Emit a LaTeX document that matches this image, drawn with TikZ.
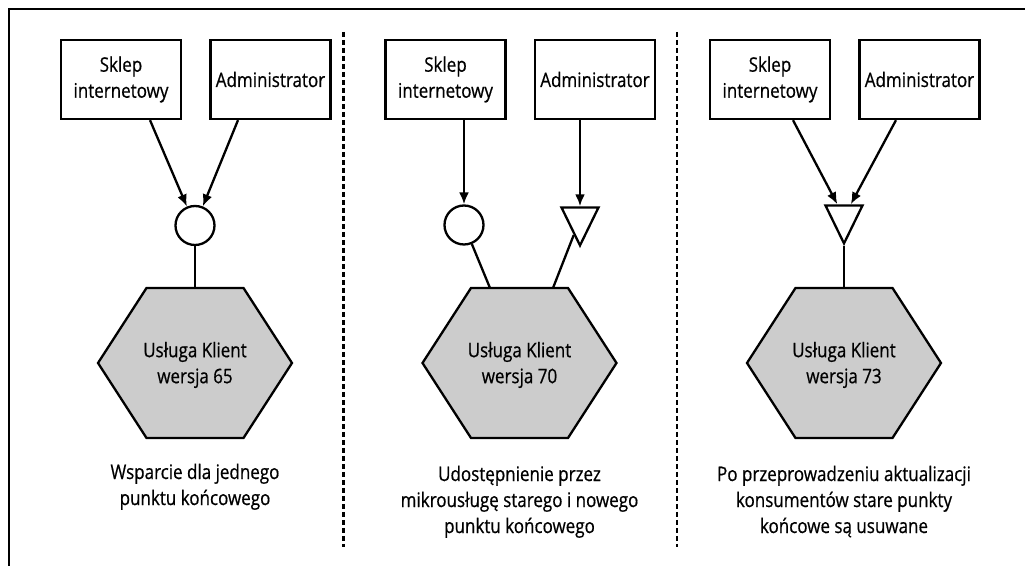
\documentclass[tikz,border=0pt]{standalone}
\usepackage{fontspec}
\setmainfont{Open Sans}[FakeStretch=0.85,FakeBold=0.6]
\usetikzlibrary{positioning,arrows.meta,shapes.geometric,calc}

\begin{document}
\begin{tikzpicture}[x=0.5pt,y=-0.5pt,line width=1.15pt,>={Latex[length=6pt,width=5pt]},
       font=\fontsize{10}{13}\selectfont,node distance=74.75pt,on grid,
       box/.style={draw,minimum width=60pt,minimum height=39.5pt,align=center,inner sep=0pt},
       port/.style={draw,circle,minimum size=19.5pt,inner sep=0pt},
       newport/.style={draw,isosceles triangle,shape border rotate=270,isosceles triangle apex angle=52,
                       minimum height=19pt,inner sep=0pt},
       hexa/.style={draw,fill=gray!40},
       divider/.style={dash pattern=on 2.5pt off 1.5pt},
       caption/.style={align=center,anchor=north}]
       \useasboundingbox (0,0) rectangle (1025,566);
       % frame and dividers
       \draw[line width=1.4pt] (1025,9) -- (9,9) -- (9,566);
       \draw[divider] (343.5,32) -- (343.5,547);
       \draw[divider] (677,32) -- (677,547);

       % one endpoint
       \node[box] (sklep1) at (121,79.5) {Sklep\\internetowy};
       \node[box] (admin1) [right=of sklep1] {Administrator};
       \node[port] (port1) at (195,225.5) {};
       \coordinate (hex1) at (195,363);
       \draw[hexa] ($(hex1)+(-97,0)$) -- ++(48.5,-75) -- ++(97,0) -- ++(48.5,75)
                   -- ++(-48.5,75) -- ++(-97,0) -- cycle;
       \node[align=center] (klient1) at ($(hex1)+(0,2)$) {Usługa Klient\\wersja 65};
       \coordinate (top1) at ($(hex1)+(0,-75)$);
       \draw[->] ($(sklep1.south)+(29,0)$) -- (port1);
       \draw[->] ($(admin1.south)+(-32.5,0)$) -- (port1);
       \draw (port1) -- (top1);
       \node[caption] (opis1) at (195,456) {Wsparcie dla jednego\\punktu końcowego};

       % old and new endpoint
       \node[box] (sklep2) at (445.5,79.5) {Sklep\\internetowy};
       \node[box] (admin2) [right=of sklep2] {Administrator};
       \node[port] (port2) at (464,225) {};
       \node[newport] (tri2) at (580,219) {};
       \coordinate (hex2) at (519.5,363);
       \draw[hexa] ($(hex2)+(-97,0)$) -- ++(48.5,-75) -- ++(97,0) -- ++(48.5,75)
                   -- ++(-48.5,75) -- ++(-97,0) -- cycle;
       \node[align=center] (klient2) at ($(hex2)+(0,2)$) {Usługa Klient\\wersja 70};
       \coordinate (topa2) at ($(hex2)+(-29.5,-75)$);
       \coordinate (topb2) at ($(hex2)+(33.5,-75)$);
       \draw[->] (sklep2.south -| port2) -- (port2);
       \draw[->] (admin2.south -| tri2) -- (tri2);
       \draw (port2) -- (topa2);
       \draw (tri2) -- (topb2);
       \node[caption] (opis2) at (519.5,458) {Udostępnienie przez\\mikrousługę starego i nowego\\punktu końcowego};

       % new endpoint only
       \node[box] (sklep3) at (770,79.5) {Sklep\\internetowy};
       \node[box] (admin3) [right=of sklep3] {Administrator};
       \node[newport] (tri3) at (844,217) {};
       \coordinate (hex3) at (844,363);
       \draw[hexa] ($(hex3)+(-97,0)$) -- ++(48.5,-75) -- ++(97,0) -- ++(48.5,75)
                   -- ++(-48.5,75) -- ++(-97,0) -- cycle;
       \node[align=center] (klient3) at ($(hex3)+(0,2)$) {Usługa Klient\\wersja 73};
       \coordinate (top3) at ($(hex3)+(0,-75)$);
       \draw[->] ($(sklep3.south)+(23,0)$) -- (tri3);
       \draw[->] ($(admin3.south)+(-23.5,0)$) -- (tri3);
       \draw (tri3) -- (top3);
       \node[caption] (opis3) at (844,458) {Po przeprowadzeniu aktualizacji\\konsumentów stare punkty\\końcowe są usuwane};
\end{tikzpicture}
\end{document}
